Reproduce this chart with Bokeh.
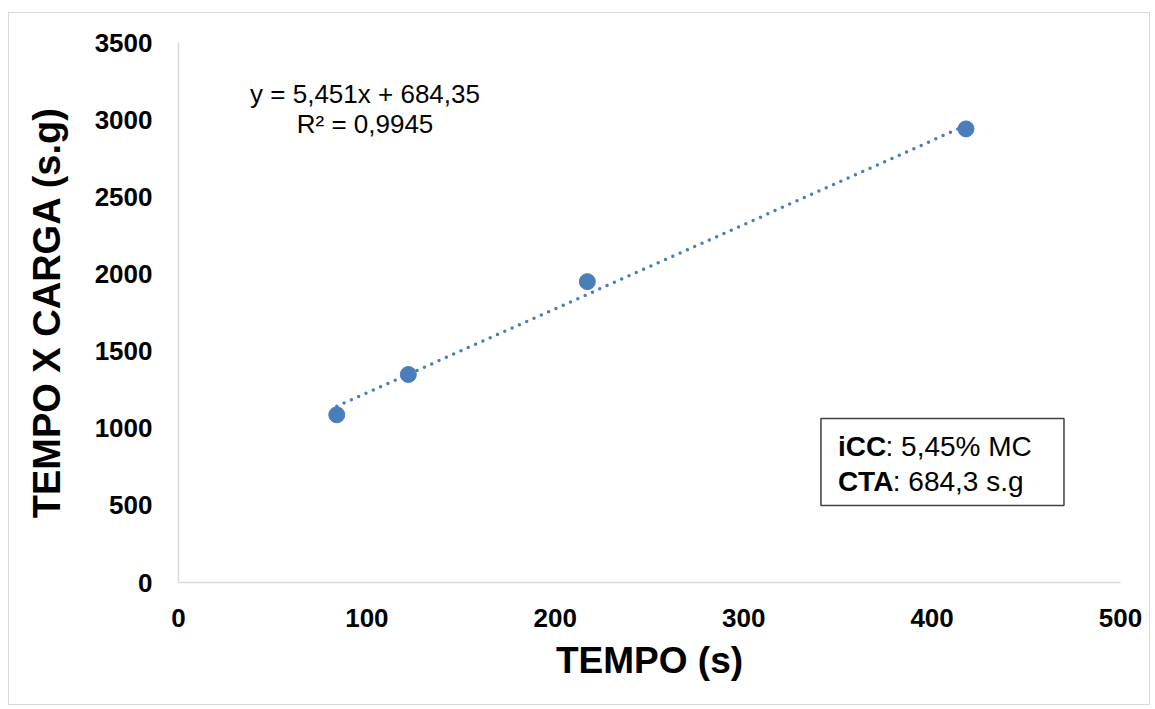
from bokeh.plotting import figure
from bokeh.models import Range1d, FixedTicker, Label, BoxAnnotation, ColumnDataSource
from bokeh.embed import file_html
from bokeh.resources import INLINE

# data
tempo = [84, 122, 217, 418]
tempo_carga = [1087, 1348, 1950, 2940]
slope = 5.451
intercept = 684.35
x_ticks = [0, 100, 200, 300, 400, 500]
y_ticks = [0, 500, 1000, 1500, 2000, 2500, 3000, 3500]
eq_text = "y = 5,451x + 684,35"
r2_text = "R² = 0,9945"

BLUE = "#4a7ebb"
FONT = "Liberation Sans"

p = figure(frame_width=942, frame_height=540, output_backend="svg", toolbar_location=None,
           x_range=Range1d(0, 500), y_range=Range1d(0, 3500))
p.min_border_left = 169
p.min_border_top = 29
p.min_border_right = 29
p.min_border_bottom = 122
p.styles = {"border": "1px solid #d9d9d9", "margin-left": "8px", "margin-top": "12px"}
p.outline_line_color = None
p.xgrid.visible = False
p.ygrid.visible = False

for ax in (p.xaxis[0], p.yaxis[0]):
    ax.axis_line_color = "#d9d9d9"
    ax.axis_line_width = 1.5
    ax.major_tick_line_color = None
    ax.minor_tick_line_color = None
    ax.major_label_text_font = FONT
    ax.major_label_text_font_style = "bold"
    ax.major_label_text_font_size = "26px"
    ax.major_label_text_color = "black"
    ax.axis_label_text_font = FONT
    ax.axis_label_text_font_style = "bold"
    ax.axis_label_text_font_size = "37px"
    ax.axis_label_text_color = "black"

p.yaxis.axis_label_text_font_size = "38px"
p.xaxis.major_label_standoff = 20
p.yaxis.major_label_standoff = 20
p.xaxis.ticker = FixedTicker(ticks=x_ticks)
p.yaxis.ticker = FixedTicker(ticks=y_ticks)
p.xaxis.axis_label = "TEMPO (s)"
p.yaxis.axis_label = "TEMPO X CARGA (s.g)"
p.xaxis.axis_label_standoff = 10
p.yaxis.axis_label_standoff = 24

# trendline
tx = [tempo[0], tempo[-1]]
ty = [slope * v + intercept for v in tx]
p.line(tx, ty, line_color=BLUE, line_width=3.5, line_dash="0 8", line_cap="round")

src = ColumnDataSource(dict(x=tempo, y=tempo_carga))
p.scatter("x", "y", source=src, size=16, fill_color=BLUE, line_color=BLUE)

# equation
p.add_layout(Label(x=99, y=3169, text=eq_text, text_font=FONT, text_font_size="26px",
                   text_align="center", text_baseline="middle", text_color="black"))
p.add_layout(Label(x=99, y=2975, text=r2_text, text_font=FONT, text_font_size="26px",
                   text_align="center", text_baseline="middle", text_color="black"))

# info box
p.add_layout(BoxAnnotation(left=341, right=470, bottom=499, top=1063, fill_color="white",
                           fill_alpha=1, line_color="#404040", line_alpha=1, line_width=1.5))
bx = 350
for yy, bold, rest, bw in [(881, "iCC", ": 5,45% MC", 1.70), (655, "CTA", ": 684,3 s.g", 1.96)]:
    p.add_layout(Label(x=bx, y=yy, text=bold, text_font=FONT, text_font_size="28px",
                       text_font_style="bold", text_baseline="middle", text_color="black"))
    p.add_layout(Label(x=bx, y=yy, x_offset=bw * 28, text=rest, text_font=FONT,
                       text_font_size="28px", text_baseline="middle", text_color="black"))

open("out.html", "w").write(file_html(p, INLINE))
